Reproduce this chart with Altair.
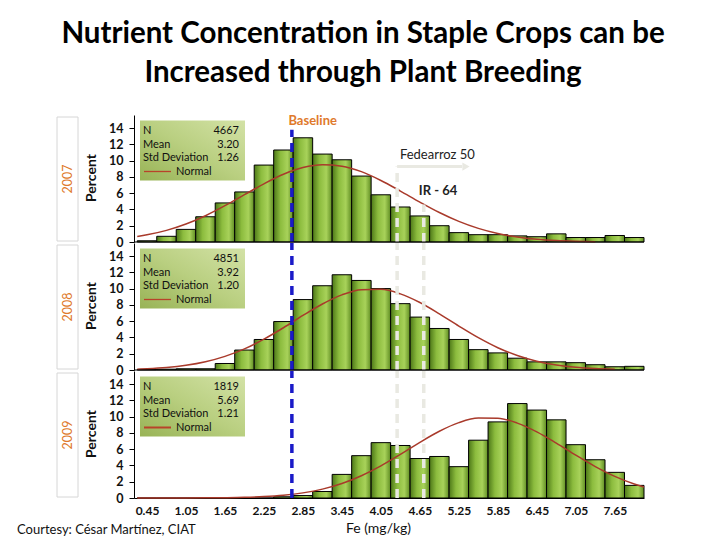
import altair as alt
import pandas as pd

# ---------------- data ----------------
title_lines = ["Nutrient Concentration in Staple Crops can be", "Increased through Plant Breeding"]
years = ["2007", "2008", "2009"]

bin_mid = [0.45, 0.75, 1.05, 1.35, 1.65, 1.95, 2.25, 2.55, 2.85, 3.15, 3.45, 3.75, 4.05,
           4.35, 4.65, 4.95, 5.25, 5.55, 5.85, 6.15, 6.45, 6.75, 7.05, 7.35, 7.65, 7.95]
bin_width = 0.3

pct_2007 = [0.15, 0.7, 1.55, 3.1, 4.8, 6.15, 9.45, 11.3, 12.8, 10.8, 10.1, 8.1, 5.8,
            4.3, 3.2, 2.0, 1.15, 0.9, 0.9, 0.75, 0.65, 1.0, 0.55, 0.55, 0.8, 0.55]
pct_2008 = [0.05, 0.1, 0.15, 0.15, 0.8, 2.45, 3.75, 5.95, 8.65, 10.35, 11.7, 11.0, 10.0,
            8.15, 6.5, 5.1, 3.75, 2.5, 2.1, 1.45, 1.0, 1.0, 0.9, 0.65, 0.4, 0.45]
pct_2009 = [0, 0, 0, 0, 0, 0, 0, 0.15, 0.3, 0.8, 2.9, 5.2, 6.8,
            6.45, 4.85, 5.1, 3.85, 7.1, 9.35, 11.6, 10.8, 9.6, 6.55, 4.7, 3.15, 1.55]

stat_n = ["4667", "4851", "1819"]
stat_mean = ["3.20", "3.92", "5.69"]
stat_sd = ["1.26", "1.20", "1.21"]

# fitted "Normal" curves
curve_x = [0.30, 0.45, 0.75, 1.05, 1.35, 1.65, 1.95, 2.25, 2.55, 2.85, 3.15, 3.45, 3.75, 4.05,
           4.35, 4.65, 4.95, 5.25, 5.55, 5.85, 6.15, 6.45, 6.75, 7.05, 7.35, 7.65, 7.95, 8.10]
normal_2007 = [0.67, 0.88, 1.43, 2.21, 3.23, 4.46, 5.81, 7.15, 8.32, 9.14, 9.49, 9.31, 8.64, 7.56,
               6.26, 4.90, 3.62, 2.53, 1.67, 1.04, 0.61, 0.34, 0.18, 0.09, 0.04, None, None, None]
normal_2008 = [0.10, 0.15, 0.30, 0.57, 1.01, 1.67, 2.59, 3.79, 5.19, 6.70, 8.11, 9.23, 9.87, 9.91,
               9.35, 8.29, 6.90, 5.40, 3.97, 2.74, 1.78, 1.08, 0.62, 0.33, 0.17, 0.08, None, None]
normal_2009 = [0.0, 0.0, 0.0, 0.01, 0.02, 0.04, 0.08, 0.17, 0.34, 0.63, 1.09, 1.78, 2.74, 3.95,
               5.36, 6.84, 8.20, 9.26, 9.82, 9.80, 9.20, 8.12, 6.74, 5.26, 3.86, 2.66, 1.73, 1.36]

baseline_fe = 2.68
fedearroz_fe = 4.30
ir64_fe = 4.71

x_domain = [0.25, 8.10]
x_tick_values = [0.45, 1.05, 1.65, 2.25, 2.85, 3.45, 4.05, 4.65, 5.25, 5.85, 6.45, 7.05, 7.65]
y_tick_values = [0, 2, 4, 6, 8, 10, 12, 14]

pcts = [pct_2007, pct_2008, pct_2009]
normals = [normal_2007, normal_2008, normal_2009]

# ---------------- styling ----------------
FONT = "Lato"
ORANGE = "#e07a2c"
GREY_LINE = "#e9e9e2"
W, H = 510, 127
XS = alt.Scale(domain=x_domain, nice=False, zero=False)
YS = alt.Scale(domain=[0, 15.6], nice=False, zero=True)

bar_fill = alt.Gradient(
    gradient="linear", x1=0, x2=1, y1=0, y2=0,
    stops=[alt.GradientStop(color="#4d7818", offset=0),
           alt.GradientStop(color="#8cbc3e", offset=0.35),
           alt.GradientStop(color="#a8d25a", offset=0.7),
           alt.GradientStop(color="#5f8c22", offset=1)])
legend_fill = alt.Gradient(
    gradient="linear", x1=0, x2=1, y1=1, y2=0,
    stops=[alt.GradientStop(color="#98b356", offset=0),
           alt.GradientStop(color="#b9cf80", offset=0.5),
           alt.GradientStop(color="#d3e2a6", offset=1)])

one = pd.DataFrame({"k": [0]})


def panel(i, bottom):
    if bottom:
        xaxis = alt.Axis(values=x_tick_values, format=".2f", ticks=False, grid=False,
                         labelFont=FONT, labelFontWeight="bold", labelFontSize=12,
                         labelColor="#111", labelPadding=7, domainColor="black",
                         title="Fe (mg/kg)", titleFont=FONT, titleFontSize=14,
                         titleFontWeight="normal", titleColor="#111", titlePadding=5,
                         titleX=244)
    else:
        xaxis = None
    yaxis = alt.Axis(values=y_tick_values, grid=False, title=None, tickSize=5, tickColor="black",
                     domainColor="black", labelFont=FONT, labelFontWeight="bold",
                     labelFontSize=12.5, labelColor="#111", labelPadding=6)

    def X(f):
        return alt.X(f, type="quantitative", scale=XS, axis=xaxis)

    def Y(f):
        return alt.Y(f, type="quantitative", scale=YS, axis=yaxis)

    bars_df = pd.DataFrame({"mid": bin_mid, "pct": pcts[i]})
    bars_df["lo"] = bars_df["mid"] - bin_width / 2
    bars_df["hi"] = bars_df["mid"] + bin_width / 2
    bars_df["zero"] = 0
    bars = alt.Chart(bars_df).mark_bar(fill=bar_fill, stroke="black", strokeWidth=1).encode(
        x=X("lo"), x2="hi", y=Y("pct"), y2="zero")

    cdf = pd.DataFrame({"x": curve_x, "y": normals[i]}).dropna()
    curve = alt.Chart(cdf).mark_line(color="#a93a2b", strokeWidth=1.5,
                                     interpolate="monotone").encode(x=X("x"), y=Y("y"))

    # reference lines
    top_base = 13.8 if i == 0 else 15.6
    fed_top = 9.26 if i == 0 else 15.6
    ir_top = 4.6 if i == 0 else 15.6
    grey_df = pd.DataFrame({"x": [fedearroz_fe, ir64_fe], "y": [0, 0], "y2": [fed_top, ir_top]})
    grey = alt.Chart(grey_df).mark_rule(color=GREY_LINE, strokeWidth=3.5, strokeDash=[9, 6]).encode(
        x=X("x"), y=Y("y"), y2="y2")
    base_df = pd.DataFrame({"x": [baseline_fe], "y": [0], "y2": [top_base]})
    base = alt.Chart(base_df).mark_rule(color="#1a1ac8", strokeWidth=3.5, strokeDash=[9, 6]).encode(
        x=X("x"), y=Y("y"), y2="y2")

    # legend box
    lbox = alt.Chart(one).mark_rect(fill=legend_fill).encode(
        x=alt.value(6), x2=alt.value(111), y=alt.value(5.5), y2=alt.value(65.5))
    rows = pd.DataFrame({"lab": ["N", "Mean", "Std Deviation"],
                         "val": [stat_n[i], stat_mean[i], stat_sd[i]],
                         "py": [15.5, 29.5, 43.0]})
    ltxt = alt.Chart(rows).mark_text(align="left", baseline="middle", font=FONT, fontSize=11,
                                     color="#111").encode(x=alt.value(9), y=alt.Y("py:Q", scale=None),
                                                          text="lab:N")
    lval = alt.Chart(rows).mark_text(align="right", baseline="middle", font=FONT, fontSize=11,
                                     color="#111").encode(x=alt.value(105), y=alt.Y("py:Q", scale=None),
                                                          text="val:N")
    lline = alt.Chart(one).mark_rule(color="#b8432a", strokeWidth=2 if i == 2 else 1.3).encode(
        x=alt.value(10), x2=alt.value(37), y=alt.value(56.5))
    lnorm = alt.Chart(one).mark_text(align="left", baseline="middle", font=FONT, fontSize=11,
                                     color="#111").encode(x=alt.value(42), y=alt.value(56.5),
                                                          text=alt.value("Normal"))

    # year box + labels at the left
    ybox = alt.Chart(one).mark_rect(fill="white", stroke="#d6d6d6", strokeWidth=1).encode(
        x=alt.value(-77), x2=alt.value(-56), y=alt.value(2), y2=alt.value(126))
    ytxt = alt.Chart(one).mark_text(angle=270, align="center", baseline="middle", font=FONT,
                                    fontSize=12.5, color=ORANGE).encode(
        x=alt.value(-66), y=alt.value(64), text=alt.value(years[i]))
    ptxt = alt.Chart(one).mark_text(angle=270, align="center", baseline="middle", font=FONT,
                                    fontSize=14, fontWeight="bold", color="#111").encode(
        x=alt.value(-42), y=alt.value(63), text=alt.value("Percent"))

    layers = [ybox, ytxt, ptxt, bars, curve, grey, base, lbox, ltxt, lval, lline, lnorm]

    if not bottom:
        xline = alt.Chart(pd.DataFrame({"x": [x_domain[0]], "x2": [x_domain[1]], "y": [0]})).mark_rule(
            color="black", strokeWidth=1).encode(x=X("x"), x2="x2", y=Y("y"))
        layers.append(xline)

    if i == 0:
        arrow_df = pd.DataFrame({"x": [fedearroz_fe], "x2": [5.30], "y": [9.26]})
        arrow = alt.Chart(arrow_df).mark_rule(color=GREY_LINE, strokeWidth=3).encode(
            x=X("x"), x2="x2", y=Y("y"))
        head = alt.Chart(pd.DataFrame({"x": [5.36], "y": [9.26]})).mark_point(
            shape="triangle-right", filled=True, size=70, color=GREY_LINE, opacity=1).encode(
            x=X("x"), y=Y("y"))
        notes = pd.DataFrame({"x": [3.0, 4.92, 4.93], "y": [14.9, 10.7, 6.3],
                              "t": ["Baseline", "Fedearroz 50", "IR - 64"]})
        n1 = alt.Chart(notes.iloc[[0]]).mark_text(font=FONT, fontSize=13, fontWeight="bold",
                                                   color=ORANGE, baseline="middle").encode(
            x=X("x"), y=Y("y"), text="t:N")
        n2 = alt.Chart(notes.iloc[[1]]).mark_text(font=FONT, fontSize=13, color="#222",
                                                   baseline="middle").encode(
            x=X("x"), y=Y("y"), text="t:N")
        n3 = alt.Chart(notes.iloc[[2]]).mark_text(font=FONT, fontSize=13, fontWeight="bold",
                                                   color="#222", baseline="middle").encode(
            x=X("x"), y=Y("y"), text="t:N")
        layers += [arrow, head, n1, n2, n3]

    if bottom:
        court = alt.Chart(one).mark_text(align="left", baseline="middle", font=FONT, fontSize=13,
                                         color="#111").encode(
            x=alt.value(-117), y=alt.value(158.5), text=alt.value("Courtesy:  César Martínez, CIAT"))
        layers.append(court)

    return alt.layer(*layers).properties(width=W, height=H)


chart = alt.vconcat(panel(0, False), panel(1, False), panel(2, True),
                    spacing=1, bounds="flush").properties(
    title=alt.TitleParams(text=title_lines, font=FONT, fontSize=29.5, fontWeight="bold",
                          color="#000", anchor="middle", lineHeight=39, offset=26, dx=31),
    padding={"left": 9, "top": 11, "right": 5, "bottom": 5},
    background="white",
).configure_view(stroke=None)

chart.save("out.html", embed_options={"renderer": "svg", "actions": False})
